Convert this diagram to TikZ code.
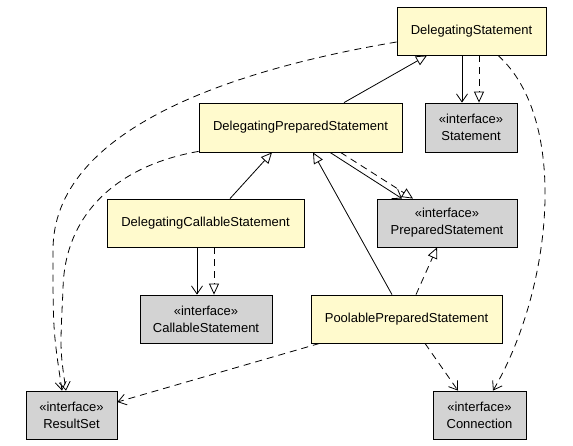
\documentclass[tikz,border=0pt]{standalone}
\usepackage{fontspec}
\setmainfont{Liberation Sans}
\usetikzlibrary{arrows.meta}
\definecolor{clsfill}{RGB}{255,250,205}
\definecolor{iffill}{RGB}{211,211,211}
\begin{document}
\begin{tikzpicture}[x=1pt,y=-1pt, line width=0.8pt,
 cls/.style={draw, fill=clsfill, inner sep=0pt, font=\fontsize{13}{17}\selectfont, align=center},
 ifc/.style={cls, fill=iffill},
 dsh/.style={dash pattern=on 7pt off 5pt},
 gen/.style={-{Triangle[open,length=11pt,width=10pt]}},
 real/.style={dsh, -{Triangle[open,length=11pt,width=10pt]}},
 nav/.style={-{Straight Barb[length=8pt,width=11pt]}},
 dep/.style={dsh, nav}]
\useasboundingbox (0,0) rectangle (573,445);
% class nodes
\node[cls, minimum width=149pt, minimum height=48pt] (ds)  at (471.5,31)  {DelegatingStatement};
\node[ifc, minimum width=92pt,  minimum height=49pt] (st)  at (471,127.5) {«interface»\\Statement};
\node[cls, minimum width=203pt, minimum height=49pt] (dps) at (300.5,127.5) {DelegatingPreparedStatement};
\node[cls, minimum width=197pt, minimum height=48pt] (dcs) at (205.5,223) {DelegatingCallableStatement};
\node[ifc, minimum width=140pt, minimum height=48pt] (ps)  at (447,223)   {«interface»\\PreparedStatement};
\node[ifc, minimum width=132pt, minimum height=48pt] (cs)  at (206,319)   {«interface»\\CallableStatement};
\node[cls, minimum width=191pt, minimum height=48pt] (pps) at (406.5,319) {PoolablePreparedStatement};
\node[ifc, minimum width=91pt,  minimum height=48pt] (rs)  at (71.5,415)  {«interface»\\ResultSet};
\node[ifc, minimum width=93pt,  minimum height=48pt] (cn)  at (479.5,415) {«interface»\\Connection};
% generalizations
\draw[gen] ([xshift=43.5pt]dps.north) -- ([xshift=-44.5pt]ds.south);
\draw[gen] ([xshift=24.5pt]dcs.north) -- ([xshift=-28.5pt]dps.south);
\draw[gen] ([xshift=-14.5pt]pps.north) -- ([xshift=12.5pt]dps.south);
% navigable associations
\draw[nav] ([xshift=-9.5pt]ds.south) -- ([xshift=-9pt]st.north);
\draw[nav] ([xshift=29.5pt]dps.south) -- ([xshift=-45pt]ps.north);
\draw[nav] ([xshift=-8.5pt]dcs.south) -- ([xshift=-9pt]cs.north);
% realizations
\draw[real] ([xshift=7.5pt]ds.south) -- ([xshift=8pt]st.north);
\draw[real] ([xshift=40pt]dps.south) -- ([xshift=-34pt]ps.north);
\draw[real] ([xshift=8.5pt]dcs.south) -- ([xshift=8pt]cs.north);
\draw[real] ([xshift=9.5pt]pps.north) -- ([xshift=-10pt]ps.south);
% dependencies
\draw[dep] ([xshift=26.5pt]ds.south) .. controls (570,120) and (552,290) .. ([xshift=13.5pt]cn.north);
\draw[dep] ([yshift=-11pt]ds.west) .. controls (230,70) and (53,130) .. (53,250) .. controls (53,330) .. ([xshift=-9.5pt]rs.north);
\draw[dep] ([yshift=1pt]dps.south west) .. controls (120,165) and (64,212) .. (63,290) .. controls (60,350) .. ([xshift=-5.5pt]rs.north);
\draw[dep] ([xshift=9pt]pps.south west) -- ([yshift=13pt]rs.east);
\draw[dep] ([xshift=18.5pt]pps.south) -- ([xshift=-21.5pt]cn.north);
\end{tikzpicture}
\end{document}
